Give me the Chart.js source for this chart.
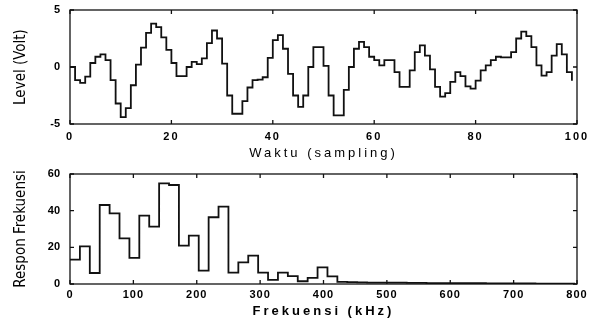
<!DOCTYPE html>
<html>
<head>
<meta charset="utf-8">
<script src="https://cdn.jsdelivr.net/npm/chart.js@4.4.1/dist/chart.umd.min.js"></script>
<style>
  html, body { margin: 0; padding: 0; background: #fff; }
  #wrap { position: relative; width: 597px; height: 325px; }
  canvas { position: absolute; left: 0; }
</style>
</head>
<body>
<div id="wrap">
  <canvas id="top" width="597" height="162" style="top:0"></canvas>
  <canvas id="bot" width="597" height="163" style="top:162px"></canvas>
</div>
<script>
// ---- Data ----
// Time-domain signal, one value per sample (sample index 0..99), Volt
const signalVolt = [
  0.0, -1.15, -1.4, -0.85, 0.35, 0.9, 1.1, 0.6, -1.15, -3.2,
  -4.4, -3.6, -1.6, 0.2, 1.7, 3.0, 3.8, 3.5, 2.6, 1.5,
  0.35, -0.8, -0.8, 0.0, 0.45, 0.25, 0.75, 2.1, 3.2, 2.5,
  0.3, -2.5, -4.1, -4.1, -3.0, -1.8, -1.15, -1.1, -0.9, 0.8,
  2.35, 2.8, 1.6, -0.6, -2.5, -3.5, -2.5, 0.0, 1.75, 1.75,
  0.1, -2.5, -4.25, -4.25, -2.0, 0.0, 1.6, 2.2, 1.75, 0.9,
  0.6, 0.15, 0.6, 0.6, -0.45, -1.75, -1.75, -0.3, 1.3, 1.9,
  1.0, -0.2, -1.75, -2.6, -2.3, -1.3, -0.45, -0.8, -1.7, -1.9,
  -1.2, -0.3, 0.15, 0.6, 0.9, 0.85, 0.85, 1.3, 2.5, 3.1,
  2.7, 1.75, 0.15, -0.75, -0.45, 1.0, 2.0, 1.1, -0.45, -1.2
];
// Frequency response, one value per FFT bin
const binWidthKHz = 15.625;
const spectrum = [
  13.3, 20.5, 6.0, 43.1, 38.5, 24.9, 14.2, 37.3, 31.3, 54.9,
  54.0, 20.9, 26.4, 7.3, 36.4, 42.2, 6.2, 11.8, 15.5, 6.2,
  2.2, 6.2, 4.3, 1.5, 3.3, 9.1, 4.2, 1.2, 1.0, 0.9,
  0.8, 0.8, 0.7, 0.7, 0.6, 0.6, 0.5, 0.5, 0.5, 0.4,
  0.4, 0.4, 0.3, 0.3, 0.3, 0.3, 0.3, 0.2, 0.2, 0.2,
  0.2, 0.2
];
const timeTicks = [0, 20, 40, 60, 80, 100];
const voltTicks = [-5, 0, 5];
const freqTicks = [0, 100, 200, 300, 400, 500, 600, 700, 800];
const respTicks = [0, 20, 40, 60];

const LINE = '#111';
const FONT = "'Liberation Sans', Arial, sans-serif";
const NARROW = "'Liberation Sans Narrow', 'DejaVu Sans Condensed', 'Liberation Sans', sans-serif";

function patchSpacing(scale, tickSp, titleSp) {
  if (scale._spPatched) return;
  scale._spPatched = true;
  const dl = scale.drawLabels.bind(scale);
  const dt = scale.drawTitle.bind(scale);
  scale.drawLabels = function (ca) {
    const c = this.ctx; const o = c.letterSpacing; c.letterSpacing = tickSp; dl(ca); c.letterSpacing = o;
  };
  scale.drawTitle = function () {
    const c = this.ctx; const o = c.letterSpacing; c.letterSpacing = titleSp; dt(); c.letterSpacing = o;
  };
}

const framePlugin = {
  id: 'frame',
  afterDatasetsDraw(chart) {
    const { ctx, chartArea: a, scales } = chart;
    ctx.save();
    ctx.strokeStyle = LINE;
    ctx.lineWidth = 1.3;
    ctx.strokeRect(a.left, a.top, a.right - a.left, a.bottom - a.top);
    const L = 4;
    ctx.beginPath();
    scales.x.ticks.forEach(t => {
      const px = scales.x.getPixelForValue(t.value);
      ctx.moveTo(px, a.bottom); ctx.lineTo(px, a.bottom - L);
      ctx.moveTo(px, a.top); ctx.lineTo(px, a.top + L);
    });
    scales.y.ticks.forEach(t => {
      const py = scales.y.getPixelForValue(t.value);
      ctx.moveTo(a.left, py); ctx.lineTo(a.left + L, py);
      ctx.moveTo(a.right, py); ctx.lineTo(a.right - L, py);
    });
    ctx.stroke();
    ctx.restore();
  }
};

function makeChart(id, cfg) {
  return new Chart(document.getElementById(id), {
    type: 'line',
    data: { datasets: [{
      data: cfg.points,
      stepped: true,
      borderColor: LINE,
      borderWidth: 1.8,
      pointRadius: 0,
      fill: false,
      tension: 0
    }] },
    options: {
      responsive: false,
      animation: false,
      devicePixelRatio: 1,
      layout: { padding: { left: 0, right: 20, top: cfg.padTop, bottom: 0 } },
      plugins: { legend: { display: false }, tooltip: { enabled: false } },
      scales: {
        x: {
          type: 'linear',
          min: cfg.xMin, max: cfg.xMax,
          afterBuildTicks: s => { s.ticks = cfg.xTicks.map(v => ({ value: v })); },
          grid: { display: false, drawTicks: false },
          border: { display: false },
          ticks: {
            color: '#000', padding: cfg.xTickPad, maxRotation: 0, autoSkip: false,
            font: { family: FONT, size: 11, weight: 'bold' }
          },
          title: {
            display: true, text: cfg.xTitle, color: '#000',
            font: { family: FONT, size: 13, weight: cfg.xTitleWeight },
            padding: { top: 0, bottom: cfg.xTitlePadBottom }
          },
          afterFit: s => {
            s.height = cfg.xHeight; s.paddingLeft = 0; s.paddingRight = 0;
            patchSpacing(s, cfg.tickSpacing, '3px');
          }
        },
        y: {
          min: cfg.yMin, max: cfg.yMax,
          afterBuildTicks: s => { s.ticks = cfg.yTicks.map(v => ({ value: v })); },
          grid: { display: false, drawTicks: false },
          border: { display: false },
          ticks: {
            color: '#000', padding: 10,
            font: { family: FONT, size: 11, weight: 'bold' }
          },
          title: {
            display: true, text: cfg.yTitle, color: '#000',
            font: { family: NARROW, size: 15 },
            padding: { top: 12, bottom: 0 }
          },
          afterFit: s => { s.width = 70; s.paddingTop = 0; s.paddingBottom = 0; }
        }
      }
    },
    plugins: [framePlugin]
  });
}

makeChart('top', {
  points: signalVolt.map((v, i) => ({ x: i, y: v })),
  xMin: 0, xMax: 100, xTicks: timeTicks,
  yMin: -5, yMax: 5, yTicks: voltTicks,
  padTop: 10, xHeight: 38, xTickPad: 6,
  xTitle: 'Waktu (sampling)', xTitleWeight: 'normal', xTitlePadBottom: 1,
  yTitle: 'Level (Volt)', tickSpacing: '2px'
});

makeChart('bot', {
  points: spectrum.map((v, k) => ({ x: k * binWidthKHz, y: v })),
  xMin: 0, xMax: 800, xTicks: freqTicks,
  yMin: 0, yMax: 60, yTicks: respTicks,
  padTop: 12, xHeight: 41, xTickPad: 4,
  xTitle: 'Frekuensi (kHz)', xTitleWeight: 'bold', xTitlePadBottom: 6,
  yTitle: 'Respon Frekuensi', tickSpacing: '1px'
});
</script>
</body>
</html>
